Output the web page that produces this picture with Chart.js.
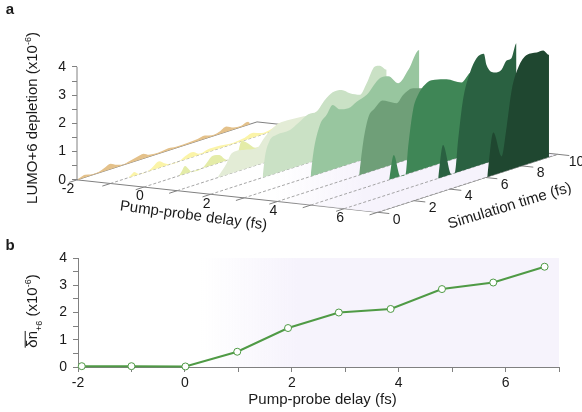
<!DOCTYPE html>
<html>
<head>
<meta charset="utf-8">
<script src="https://cdn.jsdelivr.net/npm/chart.js@4"></script>
<style>
  html, body { margin: 0; padding: 0; background: #fff; }
  #wrap { position: relative; width: 582px; height: 412px; }
  #chartA { position: absolute; left: 0; top: 0; }
  #chartB { position: absolute; left: 0; top: 235px; }
</style>
</head>
<body>
<div id="wrap">
  <canvas id="chartA" width="582" height="235"></canvas>
  <canvas id="chartB" width="582" height="177"></canvas>
</div>
<script>
const FONT = '"Liberation Sans", Arial, sans-serif';

// Panel a: one curve per pump-probe delay, each on its own list of simulation times
const delays = [-2, -1, 0, 1, 2, 3, 4, 5, 6, 7];
const curveColors = ['#e4c18a', '#fbf4a8', '#e4eca8', '#e3ecd6', '#cae1c5', '#98c69f', '#6f9f78', '#3f8656', '#2a6141', '#1f4730'];

const timesM2 = [0, 0.2, 0.45, 0.8, 1.2, 1.5, 1.87, 2.2, 2.5, 2.9, 3.3, 3.7, 4.0, 4.3, 4.7, 5.07, 5.5, 6.2, 6.7, 7.1, 7.5, 7.9, 8.3, 8.7, 9.1, 9.5, 9.6];
const valuesM2 = [0, 0.05, 0.09, 0.03, 0.03, 0.1, 0.19, 0.08, 0.02, 0.06, 0.12, 0.17, 0.07, 0.04, 0.05, 0.08, 0.04, 0.05, 0.07, 0.11, 0.04, 0.08, 0.19, 0.07, 0.04, 0.11, 0.05];
const timesM1 = [1.0, 1.15, 1.33, 1.5, 1.65, 2.0, 2.3, 2.72, 3.0, 3.3, 3.8, 4.05, 4.6, 4.9, 5.05, 5.35, 5.9, 6.2, 6.8, 7.4, 7.94, 8.4, 8.9, 9.5, 9.6];
const valuesM1 = [0, 0.06, 0.13, 0.05, 0, 0, 0.08, 0.23, 0.1, 0, 0, 0.08, 0.17, 0.05, 0.03, 0.09, 0.1, 0.08, 0.04, 0.08, 0.17, 0.06, 0.08, 0.2, 0.1];
const times0 = [1.95, 2.1, 2.29, 2.5, 2.65, 3.25, 3.5, 3.83, 4.2, 4.45, 4.65, 5.15, 5.44, 5.8, 6.18, 6.8, 7.5, 8.03, 8.6, 9.2, 9.6];
const values0 = [0, 0.12, 0.28, 0.12, 0, 0, 0.14, 0.32, 0.27, 0.1, 0, 0, 0.52, 0.35, 0.12, 0.2, 0.55, 0.63, 0.3, 0.3, 0.3];
const times1 = [2.23, 2.75, 3.03, 3.67, 4.42, 4.88, 5.53, 5.9, 6.8, 7.75, 8.2, 9.0, 9.6];
const values1 = [0, 0.41, 0.7, 0.69, 0.6, 0.91, 1.2, 1.235, 1.2, 1.21, 1.5, 1.6, 1.4];
const times2 = [2.89, 3.02, 3.26, 3.67, 4.41, 4.87, 5.43, 5.9, 6.36, 6.78, 7.28, 7.74, 8.3, 8.67, 9.13, 9.4, 9.78];
const values2 = [0, 0.715, 1.2, 1.35, 1.37, 1.52, 1.72, 1.72, 2.04, 2.22, 2.2, 1.99, 1.82, 2.15, 2.65, 2.62, 2.4];
const times3 = [3.7, 3.85, 4.22, 4.59, 4.93, 5.33, 5.8, 6.26, 6.82, 7.56, 8.02, 8.57, 9.13, 9.74];
const values3 = [0, 0.79, 1.72, 2.0, 2.28, 2.04, 1.98, 2.12, 2.25, 2.69, 2.66, 2.3, 2.66, 3.24];
const times4 = [4.54, 4.76, 5.04, 5.41, 5.84, 6.15, 6.62, 6.98, 7.54, 8.09, 8.8, 9.7];
const values4 = [0, 1.09, 1.92, 2.19, 2.38, 2.28, 2.12, 2.34, 2.46, 2.35, 2.2, 2.0];
const times5 = [4.35, 4.61, 4.98, 5.26, 5.41, 5.68, 5.96, 6.52, 6.89, 7.54, 8.37, 8.83, 9.2, 9.7];
const values5 = [0, 0.83, 0, 0, 0.96, 2.2, 2.68, 3.03, 3.02, 2.91, 2.62, 2.86, 2.9, 2.9];
const times6 = [5.22, 5.49, 5.96, 6.14, 6.33, 6.6, 6.98, 7.35, 7.76, 7.9, 8.37, 8.74, 9.02, 9.29, 9.57];
const values6 = [0, 1.13, 0, 0, 1.14, 2.5, 3.37, 3.82, 3.89, 3.47, 3.1, 3.12, 3.39, 3.42, 3.89];
const times7 = [6.09, 6.43, 6.89, 7.17, 7.45, 7.82, 8.28, 8.84, 9.2, 9.52];
const values7 = [0, 1.5, 0.56, 1.56, 2.8, 3.53, 3.87, 3.84, 3.84, 3.62];

const curveTimes = [timesM2, timesM1, times0, times1, times2, times3, times4, times5, times6, times7];
const curveValues = [valuesM2, valuesM1, values0, values1, values2, values3, values4, values5, values6, values7];

const delayTicks = [-2, 0, 2, 4, 6];
const delayMinorTicks = [-2, -1, 0, 1, 2, 3, 4, 5, 6, 7];
const simTicks = [0, 2, 4, 6, 8, 10];
const depletionTicks = [0, 0.5, 1, 1.5, 2, 2.5, 3, 3.5, 4];

// Panel b
const pumpDelay = [-1.93, -1, 0.01, 0.98, 1.93, 2.88, 3.85, 4.81, 5.77, 6.73];
const meanDepletion = [0.03, 0.03, 0.02, 0.56, 1.43, 2.0, 2.13, 2.86, 3.1, 3.68];
const GRID = '#808080';

// oblique projection of (delay, sim time, value) onto the flat x/y scales of panel a
const timeToX = 18 / 33.4;
const delayToY = 3.6 / 28.25;
const timeToY = 5.8 / 28.25;
function project(delay, time, value) {
  return { x: delay + time * timeToX, y: (value || 0) - (delay + 2) * delayToY + time * timeToY };
}

function lavender(chart, fromX, toX) {
  const x = chart.scales.x;
  if (!x || !chart.chartArea) return '#f6f3fc';
  const g = chart.ctx.createLinearGradient(x.getPixelForValue(fromX), 0, x.getPixelForValue(toX), 0);
  g.addColorStop(0, 'rgba(246,243,252,0)');
  g.addColorStop(1, 'rgba(246,243,252,1)');
  return g;
}

// runs of text with their own size and baseline shift, centred on (x, y)
function richText(ctx, x, y, angle, runs, color) {
  ctx.save();
  ctx.translate(x, y);
  ctx.rotate(angle * Math.PI / 180);
  ctx.fillStyle = color || '#1a1a1a';
  ctx.textBaseline = 'alphabetic';
  ctx.textAlign = 'left';
  let total = 0;
  runs.forEach(r => {
    ctx.font = r.size + 'px ' + FONT;
    total += ctx.measureText(r.text).width;
  });
  let pos = -total / 2;
  runs.forEach(r => {
    ctx.font = r.size + 'px ' + FONT;
    const w = ctx.measureText(r.text).width;
    ctx.fillText(r.text, pos, -(r.rise || 0));
    if (r.bar) ctx.fillRect(pos, -r.size * 0.82, w, 1);
    pos += w;
  });
  ctx.restore();
}

const datasetsA = [];
let orderA = 1000;
function addLine(points, opts) {
  datasetsA.push(Object.assign({
    data: points, pointRadius: 0, borderWidth: 0, clip: false, order: orderA--, borderColor: 'transparent'
  }, opts));
  return datasetsA.length - 1;
}

// floor, filled between its lower and upper outline
const floorLow = addLine([project(-2, 0), project(7, 0), project(7, 10)], { borderColor: GRID, borderWidth: 1 });
addLine([project(-2, 0), project(-2, 10), project(7, 10)], {
  borderColor: GRID, borderWidth: 1, fill: floorLow,
  backgroundColor: c => lavender(c.chart, 3.9, 6.6)
});

// axis ticks on the floor edges and the value axis line
const tickSegments = [];
delayMinorTicks.forEach(d => tickSegments.push(project(d, 0), project(d, -0.45), { x: NaN, y: NaN }));
simTicks.forEach(t => tickSegments.push(project(7, t), project(7.35, t), { x: NaN, y: NaN }));
addLine(tickSegments, { borderColor: GRID, borderWidth: 1 });
addLine([project(-2, 0, 0), project(-2, 0, 4)], { borderColor: GRID, borderWidth: 1 });

delays.forEach((d, i) => {
  if (d > -2) {
    addLine([project(d, 0), project(d, 10)], { borderColor: '#8f8f8f', borderWidth: 0.8, borderDash: [3, 2] });
  }
  const ts = curveTimes[i];
  const last = ts[ts.length - 1];
  const base = addLine([project(d, ts[0]), project(d, last)], {});
  const pts = ts.map((t, k) => project(d, t, curveValues[i][k]));
  pts.push(project(d, last));
  addLine(pts, {
    cubicInterpolationMode: 'monotone',
    fill: base,
    backgroundColor: curveColors[i]
  });
});

const labelsA = {
  id: 'labelsA',
  afterDatasetsDraw(chart) {
    const { ctx, scales: { x, y } } = chart;
    const px = p => ({ x: x.getPixelForValue(p.x), y: y.getPixelForValue(p.y) });
    ctx.save();
    ctx.font = '14px ' + FONT;
    ctx.fillStyle = '#1a1a1a';
    ctx.textAlign = 'center';
    ctx.textBaseline = 'middle';
    delayTicks.forEach(d => {
      const p = px(project(d, 0));
      ctx.fillText(String(d), p.x + (d < 0 ? -9 : -4), p.y + 9.5);
    });
    simTicks.forEach(t => {
      const p = px(project(7, t));
      ctx.fillText(String(t), p.x + 19, p.y + 7.5);
    });
    ctx.font = 'bold 15px ' + FONT;
    ctx.fillText('a', 10, 10);
    ctx.restore();
    richText(ctx, 193, 220, 7.5, [{ text: 'Pump-probe delay (fs)', size: 15 }]);
    richText(ctx, 511, 210, -17, [{ text: 'Simulation time (fs)', size: 15 }]);
    richText(ctx, 37, 118, -90, [
      { text: 'LUMO+6 depletion (x10', size: 15 },
      { text: '-6', size: 9, rise: 6 },
      { text: ')', size: 15 }
    ]);
  }
};

new Chart(document.getElementById('chartA'), {
  type: 'line',
  data: { datasets: datasetsA },
  plugins: [labelsA],
  options: {
    responsive: false,
    animation: false,
    events: [],
    layout: { autoPadding: false, padding: { top: 33, bottom: 15, right: 12, left: 0 } },
    plugins: { legend: { display: false }, tooltip: { enabled: false } },
    scales: {
      x: { type: 'linear', min: -2, max: 12.76, display: false },
      y: {
        min: -1.42,
        max: 5.2,
        afterBuildTicks: s => { s.ticks = depletionTicks.map(v => ({ value: v })); },
        afterFit: s => { s.width = 77; },
        border: { display: false },
        grid: { drawOnChartArea: false, tickLength: 5, color: GRID },
        ticks: {
          padding: 6,
          autoSkip: false,
          color: '#1a1a1a',
          font: { family: FONT, size: 14 },
          callback: v => (Number.isInteger(v) ? String(v) : '')
        }
      }
    }
  }
});

const labelsB = {
  id: 'labelsB',
  beforeDatasetsDraw(chart) {
    const { ctx, chartArea: a } = chart;
    ctx.save();
    ctx.fillStyle = lavender(chart, 0.3, 2.1);
    ctx.fillRect(a.left, a.top, a.right - a.left, a.bottom - a.top);
    ctx.restore();
  },
  afterDatasetsDraw(chart) {
    const { ctx } = chart;
    ctx.save();
    ctx.font = 'bold 15px ' + FONT;
    ctx.fillStyle = '#1a1a1a';
    ctx.textAlign = 'center';
    ctx.textBaseline = 'middle';
    ctx.fillText('b', 10, 11);
    ctx.restore();
    richText(ctx, 322.5, 169, 0, [{ text: 'Pump-probe delay (fs)', size: 15 }]);
    richText(ctx, 37, 76, -90, [
      { text: 'δn', size: 15, bar: true },
      { text: '+6', size: 9, rise: -5 },
      { text: ' (x10', size: 15 },
      { text: '-6', size: 9, rise: 6 },
      { text: ')', size: 15 }
    ]);
  }
};

new Chart(document.getElementById('chartB'), {
  type: 'line',
  data: {
    datasets: [{
      data: pumpDelay.map((x, i) => ({ x: x, y: meanDepletion[i] })),
      borderColor: '#4f9a45',
      borderWidth: 2,
      pointRadius: 3.5,
      pointBorderWidth: 1,
      pointBackgroundColor: '#ffffff',
      pointBorderColor: '#4f9a45',
      clip: false
    }]
  },
  plugins: [labelsB],
  options: {
    responsive: false,
    animation: false,
    events: [],
    layout: { autoPadding: false, padding: { top: 23, right: 23, bottom: 0, left: 0 } },
    plugins: { legend: { display: false }, tooltip: { enabled: false } },
    scales: {
      x: {
        type: 'linear',
        min: -2,
        max: 7,
        afterFit: s => { s.height = 45; },
        border: { color: GRID },
        grid: { drawOnChartArea: false, tickLength: 5, color: GRID },
        ticks: {
          stepSize: 1,
          autoSkip: false,
          maxRotation: 0,
          color: '#1a1a1a',
          font: { family: FONT, size: 14 },
          callback: v => (v % 2 === 0 ? String(v) : '')
        }
      },
      y: {
        min: 0,
        max: 4,
        afterFit: s => { s.width = 78; },
        border: { color: GRID },
        grid: { drawOnChartArea: false, tickLength: 5, color: GRID },
        ticks: {
          stepSize: 0.5,
          padding: 6,
          autoSkip: false,
          color: '#1a1a1a',
          font: { family: FONT, size: 14 },
          callback: v => (Number.isInteger(v) ? String(v) : '')
        }
      }
    }
  }
});
</script>
</body>
</html>
